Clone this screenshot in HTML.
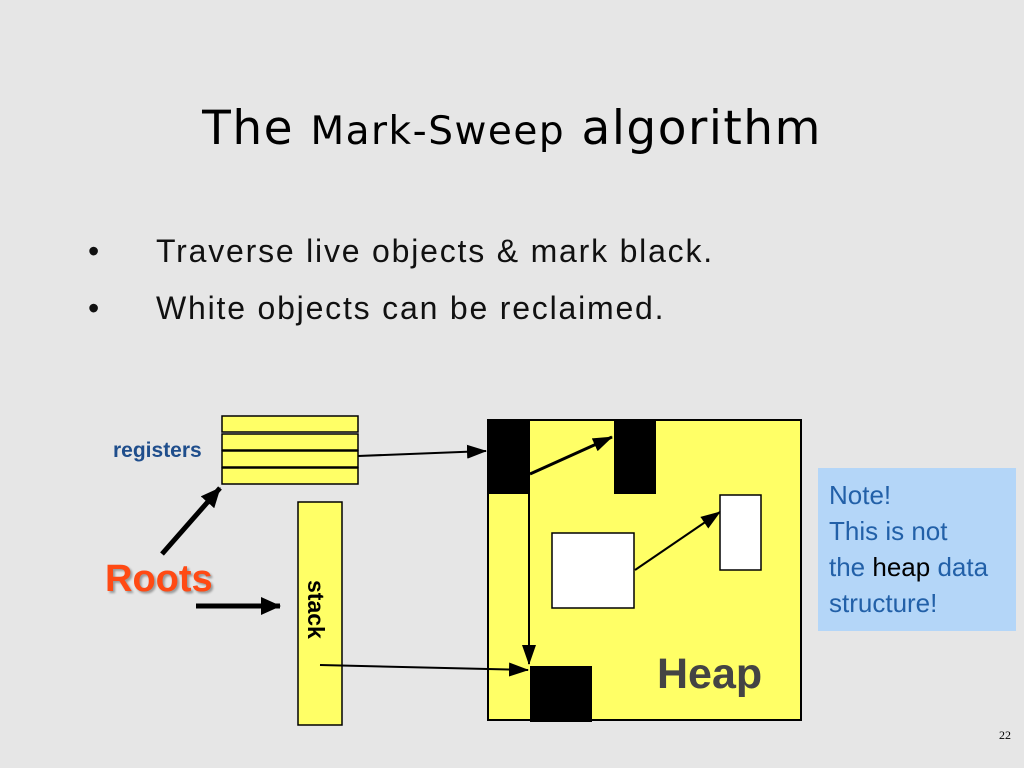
<!DOCTYPE html>
<html><head><style>
body{margin:0;width:1024px;height:768px;background:#e6e6e6;position:relative;overflow:hidden;font-family:"Liberation Sans",sans-serif}
.t{position:absolute;white-space:nowrap}
</style></head><body>
<div class="t" style="left:0;width:1024px;text-align:center;top:101px;font-size:47px;letter-spacing:1.5px;font-family:'DejaVu Sans',sans-serif;color:#000">The <span style="font-size:39px">Mark-Sweep</span> algorithm</div>
<div class="t" style="left:88px;top:233px;font-size:32px;color:#111">•</div>
<div class="t" style="left:156px;top:233px;font-size:32px;letter-spacing:1.8px;color:#111">Traverse live objects &amp; mark black.</div>
<div class="t" style="left:88px;top:290px;font-size:32px;color:#111">•</div>
<div class="t" style="left:156px;top:290px;font-size:32px;letter-spacing:1.8px;color:#111">White objects can be reclaimed.</div>
<div class="t" style="left:113px;top:439px;font-size:21px;font-weight:bold;color:#1f4e8c">registers</div>
<div class="t" style="left:105px;top:558px;font-size:38px;font-weight:bold;color:#ff4a14;text-shadow:2px 2px 2px #999">Roots</div>
<div style="position:absolute;left:818px;top:468px;width:198px;height:163px;background:#b4d6f8"></div>
<div class="t" style="left:829px;top:477px;font-size:26px;line-height:36px;color:#2260a8">Note!<br>This is not<br>the <span style="color:#000">heap</span> data<br>structure!</div>
<div class="t" style="left:999px;top:728px;font-size:12px;font-family:'Liberation Serif',serif">22</div>
<svg width="1024" height="768" style="position:absolute;left:0;top:0">
<defs>
<marker id="b" markerWidth="20" markerHeight="14" refX="19" refY="7" orient="auto" markerUnits="userSpaceOnUse"><path d="M0,0L20,7L0,14z" fill="#000"/></marker>
<marker id="c" markerWidth="20" markerHeight="18" refX="19" refY="9" orient="auto" markerUnits="userSpaceOnUse"><path d="M0,0L20,9L0,18z" fill="#000"/></marker></defs>
<g fill="#ffff66" stroke="#000" stroke-width="1.5">
<rect x="222" y="416" width="136" height="16"/><rect x="222" y="434" width="136" height="16"/><rect x="222" y="451" width="136" height="16"/><rect x="222" y="468" width="136" height="16"/>
<rect x="298" y="502" width="44" height="223"/>
<rect x="488" y="420" width="313" height="300" stroke-width="2"/>
</g>
<rect x="487" y="419" width="43" height="75"/><rect x="614" y="419" width="42" height="75"/><rect x="530" y="666" width="62" height="56"/>
<rect x="552" y="533" width="82" height="75" fill="#fff" stroke="#000" stroke-width="1.5"/>
<rect x="720" y="495" width="41" height="75" fill="#fff" stroke="#000" stroke-width="1.5"/>
<text x="308" y="580" font-size="23" font-weight="bold" font-family="Liberation Sans" transform="rotate(90 308 580)">stack</text>
<text x="657" y="688" font-size="43" font-weight="bold" fill="#444" font-family="Liberation Sans">Heap</text>
<g stroke="#000" fill="none">
<line x1="358" y1="456" x2="486" y2="451" stroke-width="2" marker-end="url(#b)"/>
<line x1="530" y1="474" x2="612" y2="437" stroke-width="3" marker-end="url(#b)"/>
<line x1="529" y1="494" x2="529" y2="664" stroke-width="2" marker-end="url(#b)"/>
<line x1="320" y1="665" x2="528" y2="670" stroke-width="2" marker-end="url(#b)"/>
<line x1="635" y1="570" x2="720" y2="512" stroke-width="2" marker-end="url(#b)"/>
<line x1="162" y1="554" x2="220" y2="488" stroke-width="5" marker-end="url(#c)"/>
<line x1="196" y1="606" x2="280" y2="606" stroke-width="5" marker-end="url(#c)"/>
</g>
</svg>
</body></html>
